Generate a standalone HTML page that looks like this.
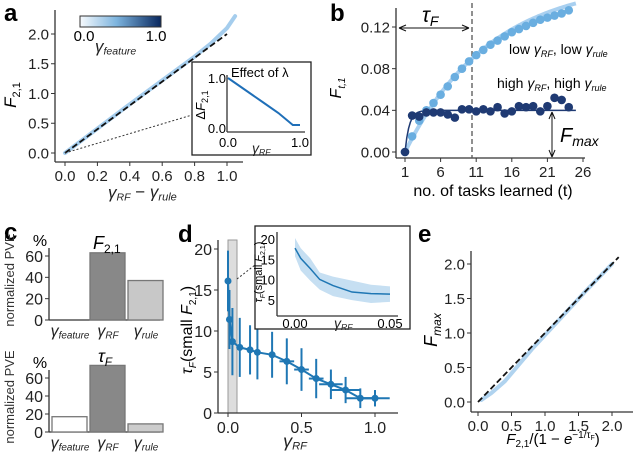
<!DOCTYPE html>
<html><head><meta charset="utf-8"><style>
body{margin:0;background:#fff}
svg{display:block;font-family:"Liberation Sans",sans-serif}
</style></head><body>
<svg id="s" width="640" height="456" viewBox="0 0 640 456">
<defs>
<linearGradient id="cb" x1="0" x2="1"><stop offset="0" stop-color="#f7fafd"/><stop offset="0.45" stop-color="#7db4de"/><stop offset="1" stop-color="#08275e"/></linearGradient>
</defs>
<g font-weight="bold" font-size="24">
<text x="4" y="21">a</text>
<text x="330" y="21">b</text>
<text x="4" y="240">c</text>
<text x="178" y="242">d</text>
<text x="418" y="242">e</text>
</g>
<g id="A"></g>
<g id="B"></g>
<g id="C"></g>
<g id="D"></g>
<g id="E"></g>
</svg>
<script>
// ---- data ----
const aCloudX=[0,0.2,0.4,0.6,0.8,0.9,1.0,1.05];
const aCloudY=[0,0.41,0.82,1.22,1.62,1.84,2.1,2.3];
const aInsetX=[0,0.1,0.3,0.5,0.7,0.85,0.9,1.0];
const aInsetY=[1.0,0.9,0.7,0.5,0.3,0.12,0.06,0.06];
const bTasks=[1,2,3,4,5,6,7,8,9,10,11,12,13,14,15,16,17,18,19,20,21,22,23,24];
const bLow=[0,0.015,0.03,0.04,0.047,0.055,0.063,0.072,0.08,0.087,0.093,0.098,0.103,0.107,0.111,0.115,0.118,0.121,0.124,0.127,0.129,0.131,0.133,0.136];
const bHigh=[0,0.035,0.034,0.038,0.038,0.038,0.036,0.033,0.041,0.041,0.039,0.041,0.039,0.043,0.037,0.039,0.044,0.043,0.044,0.039,0.044,0.052,0.050,0.043];
const cCats=["feature","RF","rule"];
const cTop=[0,63,37];
const cBot=[17,74,9];
const dX=[0,0.01,0.03,0.08,0.15,0.2,0.3,0.4,0.5,0.6,0.7,0.8,0.9,1.0];
const dY=[16.1,11.4,8.7,8,7.7,7.4,7.1,6.3,5.3,4.2,3.5,2.8,1.8,1.8];
const dErr=[3.7,3.6,4.1,3.6,3,3.3,2.8,2.8,2.6,2.4,1.8,1.6,1.2,1];
const dXErr=[0,0,0,0,0,0,0,0.05,0.05,0.05,0.08,0.1,0.1,0.1];
const dInX=[0,0.003,0.008,0.013,0.02,0.03,0.04,0.05];
const dInY=[18,15.5,13,10.3,8.8,7.2,6.8,6.7];
const dInLo=[16,12.5,10,7.8,6.2,5.2,4.5,4.8];
const dInHi=[20.5,18,15.5,12,11,10,9,8.6];
const eCloudX=[0.05,0.2,0.4,0.8,1.2,1.6,2.0];
const eCloudY=[0.03,0.13,0.3,0.76,1.18,1.6,2.0];

const NS="http://www.w3.org/2000/svg";
function mk(p,tag,at,txt){const e=document.createElementNS(NS,tag);for(const k in at)e.setAttribute(k,at[k]);if(txt!=null)e.textContent=txt;p.appendChild(e);return e;}
function lin(d0,d1,r0,r1){return v=>r0+(v-d0)*(r1-r0)/(d1-d0);}
function axes(g,x0,x1,y0,y1){mk(g,'line',{x1:x0,y1:y0,x2:x0,y2:y1,stroke:'#333','stroke-width':1.3});mk(g,'line',{x1:x0,y1:y1,x2:x1,y2:y1,stroke:'#333','stroke-width':1.3});}
function xt(g,x,y,s,fs){mk(g,'line',{x1:x,y1:y,x2:x,y2:y+4,stroke:'#333'});const t=mk(g,'text',{x:x,y:y+4+fs,'font-size':fs,'text-anchor':'middle',fill:'#222'},s);}
function yt(g,x,y,s,fs){mk(g,'line',{x1:x-4,y1:y,x2:x,y2:y,stroke:'#333'});const t=mk(g,'text',{x:x-6,y:y+fs*0.36,'font-size':fs,'text-anchor':'end',fill:'#222'},s);}
function gam(g,x,y,sub,fs,anchor){const t=mk(g,'text',{x:x,y:y,'font-size':fs,'text-anchor':anchor||'start',fill:'#222'});mk(t,'tspan',{'font-style':'italic'},'γ');mk(t,'tspan',{'font-size':fs*0.62,'font-style':'italic',dy:fs*0.15},sub);return t;}

// ---- panel a ----
(function(){const g=document.getElementById('A');
const X=lin(0,1,65,227),Y=lin(0,2,153,34);
axes(g,55,243,10,162);
[0,0.2,0.4,0.6,0.8,1.0].forEach(v=>xt(g,X(v),162,v.toFixed(1),15));
[0,0.5,1,1.5,2].forEach(v=>yt(g,55,Y(v),v.toFixed(1),15));
const p=mk(g,'polyline',{points:aCloudX.map((x,i)=>X(x)+','+Y(aCloudY[i])).join(' '),fill:'none',stroke:'#8fc0e8','stroke-width':4,'stroke-opacity':0.8,'stroke-linecap':'round'});

const l=mk(g,'line',{x1:X(0),y1:Y(0),x2:X(1),y2:Y(2),stroke:'#111','stroke-width':1.8,'stroke-dasharray':'6,3'});

mk(g,'line',{x1:X(0),y1:Y(0),x2:192,y2:115,stroke:'#333','stroke-dasharray':'2,2'});
const cb=mk(g,'rect',{x:80,y:16,width:81,height:11,fill:'url(#cb)',stroke:'#333'});

mk(g,'text',{x:84,y:41,'font-size':15,'text-anchor':'middle'},'0.0');mk(g,'text',{x:156,y:41,'font-size':15,'text-anchor':'middle'},'1.0');
gam(g,95,52,'feature',17);
const yl=mk(g,'text',{x:0,y:0,'font-size':17,transform:'translate(16,95) rotate(-90)','text-anchor':'middle','font-style':'italic'});mk(yl,'tspan',{},'F');mk(yl,'tspan',{'font-size':11,dy:4,'font-style':'normal'},'2,1');

const xl=gam(g,108,198,'RF',17);mk(xl,'tspan',{dy:-3,'font-size':17},' − ');mk(xl,'tspan',{'font-style':'italic','font-size':17},'γ');mk(xl,'tspan',{'font-style':'italic','font-size':11,dy:3},'rule');

const ib=mk(g,'rect',{x:192,y:62,width:119,height:93,fill:'#fff',stroke:'#222','stroke-width':1.3});
const IX=lin(0,1,228,300),IY=lin(0,1,128,78);
axes(g,227,305,75,132);
mk(g,'text',{x:231,y:77,'font-size':13},'Effect of λ');
[[0,'0.0'],[1,'1.0']].forEach(a=>mk(g,'text',{x:IX(a[0]),y:147,'font-size':13,'text-anchor':'middle'},a[1]));
[[0,'0.0'],[1,'1.0']].forEach(a=>mk(g,'text',{x:226,y:IY(a[0])+5,'font-size':13,'text-anchor':'end'},a[1]));
gam(g,252,153,'RF',14);
const il=mk(g,'text',{x:0,y:0,'font-size':13,transform:'translate(205,105) rotate(-90)','text-anchor':'middle'});mk(il,'tspan',{},'Δ');mk(il,'tspan',{'font-style':'italic'},'F');mk(il,'tspan',{'font-size':9,dy:3},'2,1');
const ip=mk(g,'polyline',{points:aInsetX.map((x,i)=>IX(x)+','+IY(aInsetY[i])).join(' '),fill:'none',stroke:'#1f6fb8','stroke-width':2});

})();

// ---- panel b ----
(function(){const g=document.getElementById('B');
const X=lin(1,26,405,583),Y=lin(0,0.12,152,27);
axes(g,396,585,8,158);
[1,6,11,16,21,26].forEach(v=>xt(g,X(v),158,String(v),15));
[0,0.04,0.08,0.12].forEach(v=>yt(g,396,Y(v),v.toFixed(2),15));
mk(g,'line',{x1:472,y1:3,x2:472,y2:158,stroke:'#555','stroke-width':1.3,'stroke-dasharray':'5,3'});
mk(g,'line',{x1:399,y1:28,x2:469,y2:28,stroke:'#111'});
mk(g,'path',{d:'M399,28 l7,-3 M399,28 l7,3 M469,28 l-7,-3 M469,28 l-7,3',stroke:'#111',fill:'none'});
const tf=mk(g,'text',{x:422,y:22,'font-size':21,'font-style':'italic'},'τ');mk(tf,'tspan',{'font-size':14,dy:4},'F');
const lf=[],hf=[];for(let t=1;t<=25;t+=0.25){lf.push(X(t)+','+Y(0.165*(1-Math.exp(-(t-1)/12))));hf.push(X(t)+','+Y(0.04*(1-Math.exp(-(t-1)/0.6))));}
mk(g,'polyline',{points:lf.join(' '),fill:'none',stroke:'#a9d0f0','stroke-width':4});
mk(g,'polyline',{points:hf.join(' '),fill:'none',stroke:'#1f3a73','stroke-width':1.5});
bTasks.forEach((t,i)=>{const c=mk(g,'circle',{cx:X(t),cy:Y(bLow[i]),r:4.3,fill:'#6aaee0'});});
bTasks.forEach((t,i)=>{const c=mk(g,'circle',{cx:X(t),cy:Y(bHigh[i]),r:4.3,fill:'#1f3a73'});});
mk(g,'line',{x1:552,y1:112,x2:552,y2:157,stroke:'#111'});
mk(g,'path',{d:'M552,112 l-3,7 M552,112 l3,7 M552,157 l-3,-7 M552,157 l3,-7',stroke:'#111',fill:'none'});
const fm=mk(g,'text',{x:560,y:142,'font-size':20,'font-style':'italic'},'F');mk(fm,'tspan',{'font-size':14,dy:4},'max');
let t1=mk(g,'text',{x:509,y:54,'font-size':14},'low ');mk(t1,'tspan',{'font-style':'italic'},'γ');mk(t1,'tspan',{'font-size':9,'font-style':'italic',dy:3},'RF');mk(t1,'tspan',{dy:-3},', low ');mk(t1,'tspan',{'font-style':'italic'},'γ');mk(t1,'tspan',{'font-size':9,'font-style':'italic',dy:3},'rule');
let t2=mk(g,'text',{x:497,y:88,'font-size':14},'high ');mk(t2,'tspan',{'font-style':'italic'},'γ');mk(t2,'tspan',{'font-size':9,'font-style':'italic',dy:3},'RF');mk(t2,'tspan',{dy:-3},', high ');mk(t2,'tspan',{'font-style':'italic'},'γ');mk(t2,'tspan',{'font-size':9,'font-style':'italic',dy:3},'rule');
const yl=mk(g,'text',{x:0,y:0,'font-size':16,transform:'translate(341,88) rotate(-90)','text-anchor':'middle','font-style':'italic'});mk(yl,'tspan',{},'F');mk(yl,'tspan',{'font-size':10,dy:4},'t,1');
mk(g,'text',{x:493,y:196,'font-size':16,'text-anchor':'middle'},'no. of tasks learned (t)');
})();

// ---- panel c ----
(function(){const g=document.getElementById('C');
function bars(base,top60,vals,fills,title,ticks){
 const Y=lin(0,60,base,top60);axes(g,49,160,top60-8,base);
 ticks.forEach(v=>yt(g,49,Y(v),String(v),16));
 vals.forEach((v,i)=>{const r=mk(g,'rect',{x:52+i*38,y:Y(v),width:35,height:base-Y(v),fill:fills[i],stroke:'#777','stroke-width':1.3});});
 cCats.forEach((c,i)=>gam(g,70+i*38,base+16,c,16,'middle'));
 mk(g,'text',{x:40,y:top60-10,'font-size':16,'text-anchor':'middle'},'%');
 mk(g,'text',{x:0,y:0,'font-size':13,transform:`translate(14,${(base+top60)/2-8}) rotate(-90)`,'text-anchor':'middle',fill:'#333'},'normalized PVE');
 title();
}
bars(320,256,cTop,['#fff','#888','#c8c8c8'],()=>{const t=mk(g,'text',{x:93,y:249,'font-size':18,'font-style':'italic'},'F');mk(t,'tspan',{'font-size':12,dy:4,'font-style':'normal'},'2,1');},[0,20,40,60]);
bars(432,378,cBot,['#fff','#888','#ccc'],()=>{const t=mk(g,'text',{x:98,y:362,'font-size':18,'font-style':'italic'},'τ');mk(t,'tspan',{'font-size':12,dy:4},'F');},[0,20,40,60]);
})();

// ---- panel d ----
(function(){const g=document.getElementById('D');
const X=lin(0,1,228,375),Y=lin(0,20,413,249);
mk(g,'rect',{x:X(0),y:240,width:9,height:173,fill:'#ddd',stroke:'#999'});
axes(g,218,398,240,413);
[0,0.5,1].forEach(v=>xt(g,X(v),413,v.toFixed(1),16));
[0,5,10,15,20].forEach(v=>yt(g,218,Y(v),String(v),16));
const blue='#1f77b4';
mk(g,'polyline',{points:dX.map((x,i)=>X(x)+','+Y(dY[i])).join(' '),fill:'none',stroke:blue,'stroke-width':2});
dX.forEach((x,i)=>{mk(g,'line',{x1:X(x),y1:Y(dY[i]-dErr[i]),x2:X(x),y2:Y(dY[i]+dErr[i]),stroke:blue,'stroke-width':2});
 if(dXErr[i])mk(g,'line',{x1:X(x-dXErr[i]),y1:Y(dY[i]),x2:X(x+dXErr[i]),y2:Y(dY[i]),stroke:blue,'stroke-width':2});
 const c=mk(g,'circle',{cx:X(x),cy:Y(dY[i]),r:3.5,fill:blue});});
mk(g,'line',{x1:237,y1:279,x2:255,y2:265,stroke:'#333','stroke-dasharray':'2,2'});
const yl=mk(g,'text',{x:0,y:0,'font-size':16,transform:'translate(192,330) rotate(-90)','text-anchor':'middle'});mk(yl,'tspan',{'font-style':'italic'},'τ');mk(yl,'tspan',{'font-size':10,dy:4,'font-style':'italic'},'F');mk(yl,'tspan',{dy:-4},'(small ');mk(yl,'tspan',{'font-style':'italic'},'F');mk(yl,'tspan',{'font-size':10,dy:4},'2,1');mk(yl,'tspan',{dy:-4},')');
gam(g,295,447,'RF',18,'middle');
mk(g,'rect',{x:255,y:226,width:155,height:103,fill:'#fff',stroke:'#222','stroke-width':1.3});
const IX=lin(0,0.05,295,390),IY=lin(5,20,301,240);
axes(g,277,398,232,316);
[[0,'0.00'],[0.05,'0.05']].forEach(a=>mk(g,'text',{x:IX(a[0]),y:328,'font-size':13,'text-anchor':'middle'},a[1]));
[5,10,15,20].forEach(v=>mk(g,'text',{x:275,y:IY(v)+4,'font-size':13,'text-anchor':'end'},String(v)));
const band=dInX.map((x,i)=>IX(x)+','+IY(dInHi[i])).concat(dInX.slice().reverse().map((x,j)=>{const i=dInX.length-1-j;return IX(x)+','+IY(dInLo[i]);}));
mk(g,'polygon',{points:band.join(' '),fill:'#c6dff2'});
mk(g,'polyline',{points:dInX.map((x,i)=>IX(x)+','+IY(dInY[i])).join(' '),fill:'none',stroke:blue,'stroke-width':1.5});
gam(g,334,328,'RF',14);
const il=mk(g,'text',{x:0,y:0,'font-size':11,transform:'translate(262,272) rotate(-90)','text-anchor':'middle'});mk(il,'tspan',{'font-style':'italic'},'τ');mk(il,'tspan',{'font-size':7,dy:3,'font-style':'italic'},'F');mk(il,'tspan',{dy:-3},'(small ');mk(il,'tspan',{'font-style':'italic'},'F');mk(il,'tspan',{'font-size':7,dy:3},'2,1');mk(il,'tspan',{dy:-3},')');
})();

// ---- panel e ----
(function(){const g=document.getElementById('E');
const X=lin(0,2,478,612),Y=lin(0,2,402,264);
axes(g,471,633,251,412);
[0,0.5,1,1.5,2].forEach(v=>xt(g,X(v),412,v.toFixed(1),15));
[0,0.5,1,1.5,2].forEach(v=>yt(g,471,Y(v),v.toFixed(1),15));
mk(g,'polyline',{points:eCloudX.map((x,i)=>X(x)+','+Y(eCloudY[i])).join(' '),fill:'none',stroke:'#8fc0e8','stroke-width':4,'stroke-opacity':0.7,'stroke-linecap':'round'});
mk(g,'line',{x1:X(0),y1:Y(0),x2:X(2.1),y2:Y(2.1),stroke:'#111','stroke-width':1.8,'stroke-dasharray':'6,3'});
const yl=mk(g,'text',{x:0,y:0,'font-size':18,transform:'translate(437,330) rotate(-90)','text-anchor':'middle','font-style':'italic'});mk(yl,'tspan',{},'F');mk(yl,'tspan',{'font-size':12,dy:4},'max');
const xl=mk(g,'text',{x:553,y:444,'font-size':15,'text-anchor':'middle'});mk(xl,'tspan',{'font-style':'italic'},'F');mk(xl,'tspan',{'font-size':10,dy:3},'2,1');mk(xl,'tspan',{dy:-3},'/(1 − ');mk(xl,'tspan',{'font-style':'italic'},'e');mk(xl,'tspan',{'font-size':10,dy:-6},'−1/τ');mk(xl,'tspan',{'font-size':7,dy:2},'F');mk(xl,'tspan',{dy:4},')');
})();
</script>
</body></html>
